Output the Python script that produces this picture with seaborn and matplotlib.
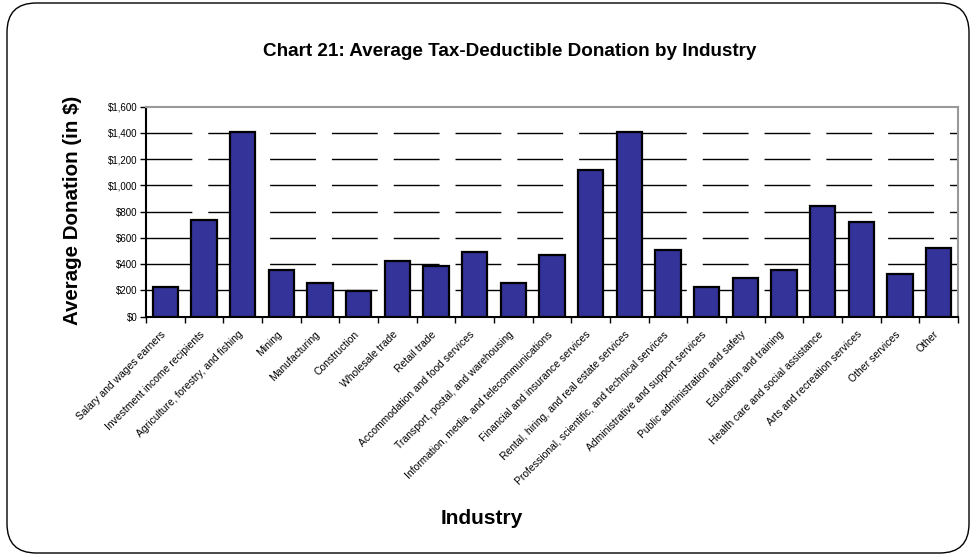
import matplotlib
matplotlib.use("Agg")
import matplotlib.pyplot as plt
import matplotlib.transforms as mtransforms
import seaborn as sns
import pandas as pd
from matplotlib.patches import FancyBboxPatch
from matplotlib.ticker import FuncFormatter, FixedLocator

industries = [
    "Salary and wages earners",
    "Investment income recipients",
    "Agriculture, forestry, and fishing",
    "Mining",
    "Manufacturing",
    "Construction",
    "Wholesale trade",
    "Retail trade",
    "Accommodation and food services",
    "Transport, postal, and warehousing",
    "Information, media, and telecommunications",
    "Financial and insurance services",
    "Rental, hiring, and real estate services",
    "Professional, scientific, and technical services",
    "Administrative and support services",
    "Public administration and safety",
    "Education and training",
    "Health care and social assistance",
    "Arts and recreation services",
    "Other services",
    "Other",
]
avg_donation = [226, 735, 1407, 354, 257, 198, 425, 384, 496, 260, 473,
                1117, 1410, 506, 229, 298, 359, 840, 725, 326, 522]

y_ticks = [0, 200, 400, 600, 800, 1000, 1200, 1400, 1600]

df = pd.DataFrame({"Industry": industries, "Donation": avg_donation})

sns.set_theme(style="white")
plt.rcParams["font.family"] = ["Liberation Sans", "DejaVu Sans"]
plt.rcParams["text.color"] = "black"
plt.rcParams["xtick.color"] = "black"
plt.rcParams["ytick.color"] = "black"

fig = plt.figure(figsize=(9.76, 5.6), dpi=100)
fig.patch.set_facecolor("white")

# rounded outer border
border = FancyBboxPatch((7 / 976, 7 / 560), (969 - 7) / 976, (557 - 7) / 560,
                        boxstyle="round,pad=0,rounding_size=0.03",
                        transform=fig.transFigure, facecolor="none",
                        edgecolor="black", linewidth=1.0, zorder=0,
                        mutation_aspect=976 / 560)
fig.patches.append(border)

ax = fig.add_axes([146 / 976, 1 - 316.7 / 560, (958 - 146) / 976, (316.7 - 106.7) / 560])
ax.set_facecolor("none")
ax.set_zorder(2)

sns.barplot(data=df, x="Industry", y="Donation", ax=ax, color="#333399",
            saturation=1, width=0.65, edgecolor="black", linewidth=1.6, zorder=3)

ax.set_ylim(0, 1600)
ax.set_xlim(-0.5, len(industries) - 0.5)
ax.yaxis.set_major_locator(FixedLocator(y_ticks))
ax.yaxis.set_major_formatter(FuncFormatter(lambda v, p: f"${int(v):,}"))

# dashed gridlines
for v in y_ticks[1:-1]:
    ax.axhline(v, color="black", linewidth=1.0, linestyle=(0, (33, 11.5)), zorder=1)

ax.set_xticks(range(len(industries)))
ax.set_xticklabels(industries, rotation=45, ha="right", va="top", rotation_mode="anchor",
                   fontsize=7.5, color="black")
ax.set_xticks([i - 0.5 for i in range(len(industries) + 1)], minor=True)
ax.tick_params(axis="x", which="major", length=0, pad=9)
ax.tick_params(axis="x", which="minor", length=4, width=1, color="black", direction="out",
               bottom=True)
ax.tick_params(axis="y", which="major", length=4, width=1, color="black", direction="out",
               left=True, labelsize=7, pad=2, labelcolor="black")

shift = mtransforms.ScaledTranslation(-5 / 100, 0, fig.dpi_scale_trans)
for lbl in ax.get_xticklabels():
    lbl.set_transform(lbl.get_transform() + shift)

for side in ["left", "bottom"]:
    ax.spines[side].set_color("black")
    ax.spines[side].set_linewidth(1.5)
for side in ["top", "right"]:
    ax.spines[side].set_visible(True)
    ax.spines[side].set_color("#999999")
    ax.spines[side].set_linewidth(1.5)

ax.set_xlabel("")
ax.set_ylabel("")

fig.text(510 / 976, 1 - 56 / 560, "Chart 21: Average Tax-Deductible Donation by Industry",
         ha="center", va="baseline", fontsize=13.6, fontweight="bold", color="black")
fig.text(482 / 976, 1 - 519 / 560, "Industry", ha="center", va="center",
         fontsize=15, fontweight="bold", color="black")
fig.text(73 / 976, 1 - 210 / 560, "Average Donation (in $)", ha="center", va="center",
         rotation=90, fontsize=14.8, fontweight="bold", color="black")

fig.savefig("out.png", dpi=100, facecolor="white")
